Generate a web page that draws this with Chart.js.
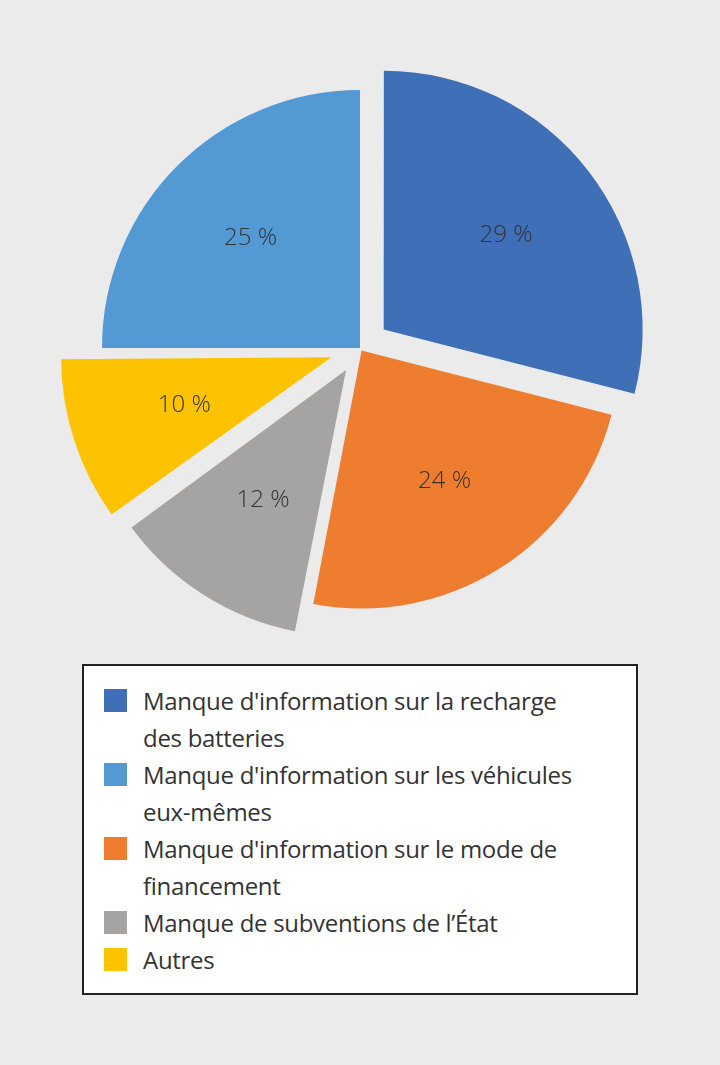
<!DOCTYPE html>
<html><head><meta charset="utf-8">
<script src="https://cdn.jsdelivr.net/npm/chart.js@4/dist/chart.umd.min.js"></script>
<style>
html,body{margin:0;padding:0;background:#ebebeb;width:720px;height:1065px;overflow:hidden;font-family:"Open Sans",sans-serif;}
#wrap{position:absolute;left:0;top:0;width:720px;height:696px;}
#legend{position:absolute;left:82px;top:664px;width:556px;height:331px;box-sizing:border-box;border:2px solid #222;background:#fff;padding:16px 36px 0 20px;}
.item{display:flex;align-items:flex-start;font-size:24px;line-height:37px;color:#333;font-weight:400;letter-spacing:-0.3px}
.sw{flex:none;width:23px;height:23px;margin:7px 16px 0 0}
</style></head><body>
<div id="wrap"><canvas id="c"></canvas></div>
<div id="legend"></div>
<script>
// clockwise from 12 o'clock
const categories = ["Manque d'information sur la recharge des batteries","Manque d'information sur le mode de financement","Manque de subventions de l’État","Autres","Manque d'information sur les véhicules eux-mêmes"];
const values = [29,24,12,10,25];
const colors = ["#3f6fb6","#ef7d2f","#a5a4a2","#fdc300","#539ad5"];
const offsets = [30,3,26,30,0];
const legendOrder = [0,4,1,2,3];

const lg=document.getElementById('legend');
legendOrder.forEach(i=>{const d=document.createElement('div');d.className='item';
d.innerHTML='<span class="sw" style="background:'+colors[i]+'"></span><span>'+categories[i]+'</span>';lg.appendChild(d);});

const labelPlugin={id:'lbl',afterDatasetsDraw(chart){
  const ctx=chart.ctx;const meta=chart.getDatasetMeta(0);
  ctx.save();ctx.font='300 24px "Open Sans"';ctx.fillStyle='#333';ctx.textAlign='center';ctx.textBaseline='middle';
  meta.data.forEach((a,i)=>{const mid=(a.startAngle+a.endAngle)/2;const r=a.outerRadius*0.6+offsets[i];
    ctx.fillText(values[i]+' %',a.x+Math.cos(mid)*r,a.y+Math.sin(mid)*r);});
  ctx.restore();}};

new Chart(document.getElementById('c'),{type:'pie',
 data:{labels:categories,datasets:[{data:values,backgroundColor:colors,borderWidth:0,offset:offsets.map(o=>o*4),hoverOffset:0}]},
 options:{responsive:true,maintainAspectRatio:false,animation:false,radius:258,
  plugins:{legend:{display:false},tooltip:{enabled:false}},layout:{padding:0}},
 plugins:[labelPlugin]});
</script></body></html>
